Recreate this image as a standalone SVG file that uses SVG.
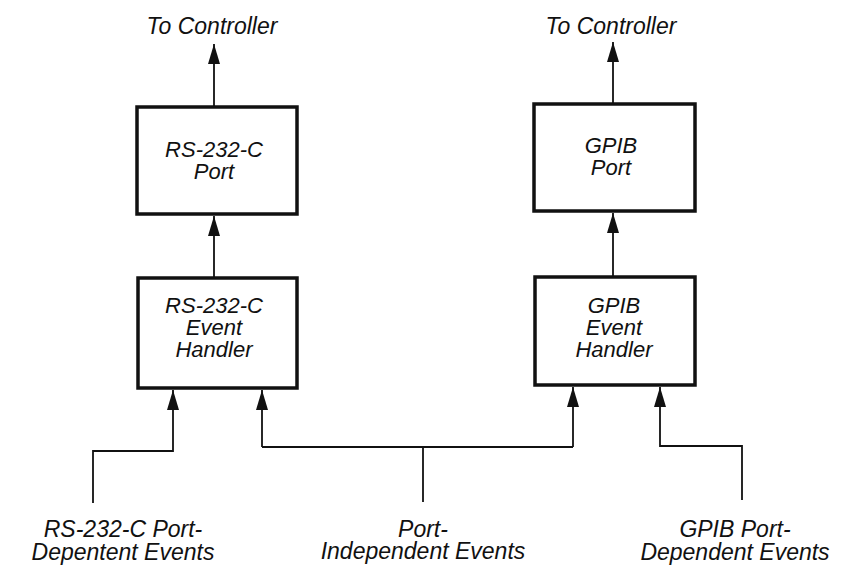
<svg xmlns="http://www.w3.org/2000/svg" width="849" height="569" viewBox="0 0 849 569">
<style>
text{font-family:"Liberation Sans",Arial,sans-serif;font-style:italic;font-size:22px;fill:#111;text-anchor:middle}
.lbl{font-size:23px}
.box{fill:#fff;stroke:#111;stroke-width:3.5}
.ln{fill:none;stroke:#111;stroke-width:1.8}
</style>
<defs>
<marker id="ah" viewBox="0 0 20 12" refX="20" refY="6" markerWidth="20" markerHeight="12" markerUnits="userSpaceOnUse" orient="auto">
<path d="M0,0 L20,6 L0,12 Z" fill="#111"/>
</marker>
</defs>
<rect width="849" height="569" fill="#fff"/>
<g id="connectors">
<path class="ln" d="M214,107 L214,44" marker-end="url(#ah)"/>
<path class="ln" d="M613,104 L613,42" marker-end="url(#ah)"/>
<path class="ln" d="M214,278 L214,216" marker-end="url(#ah)"/>
<path class="ln" d="M613,277 L613,213" marker-end="url(#ah)"/>
<path class="ln" d="M93,503 L93,451 L173,451 L173,390" marker-end="url(#ah)"/>
<path class="ln" d="M262,447 L573,447"/>
<path class="ln" d="M262,447 L262,390" marker-end="url(#ah)"/>
<path class="ln" d="M573,447 L573,387" marker-end="url(#ah)"/>
<path class="ln" d="M423,502 L423,447"/>
<path class="ln" d="M742,500 L742,446 L660,446 L660,387" marker-end="url(#ah)"/>
</g>
<g id="to-controller-left"><text class="lbl" x="212" y="34">To Controller</text></g>
<g id="to-controller-right"><text class="lbl" x="611" y="34">To Controller</text></g>
<g id="rs232-port">
<rect class="box" x="137" y="107" width="160" height="107"/>
<text x="214" y="157">RS-232-C</text>
<text x="214" y="179">Port</text>
</g>
<g id="gpib-port">
<rect class="box" x="534" y="104" width="161" height="107"/>
<text x="611" y="153">GPIB</text>
<text x="611" y="175">Port</text>
</g>
<g id="rs232-handler">
<rect class="box" x="138" y="278" width="159" height="110"/>
<text x="214" y="313">RS-232-C</text>
<text x="214" y="335">Event</text>
<text x="214" y="357">Handler</text>
</g>
<g id="gpib-handler">
<rect class="box" x="535" y="277" width="160" height="108"/>
<text x="614" y="313">GPIB</text>
<text x="614" y="335">Event</text>
<text x="614" y="357">Handler</text>
</g>
<g id="rs232-events">
<text class="lbl" x="123" y="537">RS-232-C Port-</text>
<text class="lbl" x="123" y="560">Depentent Events</text>
</g>
<g id="independent-events">
<text class="lbl" x="423" y="537">Port-</text>
<text class="lbl" x="423" y="559">Independent Events</text>
</g>
<g id="gpib-events">
<text class="lbl" x="735" y="537">GPIB Port-</text>
<text class="lbl" x="735" y="560">Dependent Events</text>
</g>
</svg>
